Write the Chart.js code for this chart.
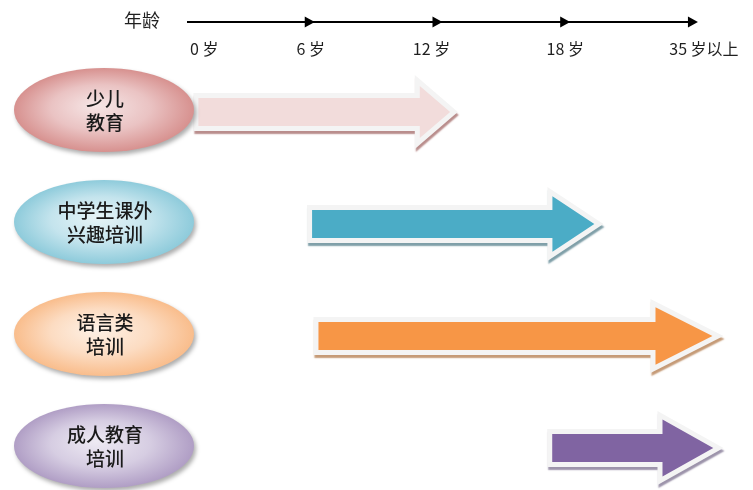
<!DOCTYPE html>
<html>
<head>
<meta charset="utf-8">
<script src="https://cdn.jsdelivr.net/npm/chart.js@4/dist/chart.umd.min.js"></script>
<style>
  html, body { margin: 0; padding: 0; background: #ffffff; }
  #c { display: block; }
</style>
</head>
<body>
<canvas id="c" width="753" height="490"></canvas>
<script>
// Training categories (one row each), drawn as labelled ovals
const categories = [
  ['少儿', '教育'],
  ['中学生课外', '兴趣培训'],
  ['语言类', '培训'],
  ['成人教育', '培训']
];

// Age stages on the top axis; each stage is one unit on the x scale
const axisTitle = '年龄';
const ageTicks = ['0 岁', '6 岁', '12 岁', '18 岁', '35 岁以上'];

// Age span covered by each category, in age-stage units
const spanStart = [0.05, 0.94, 0.99, 2.82];
const spanEnd   = [2.12, 3.26, 4.20, 4.20];

// Styling per row
const arrowFill   = ['#f2dcdb', '#4bacc6', '#f79646', '#8064a2'];
const arrowShadow = ['#b98d8c', '#7f9fa8', '#c59a76', '#9c93aa'];
const headLength  = [43, 56, 73, 66];
const ovalEdge    = ['#d7918f', '#8ecbdb', '#f9bd8c', '#b09ec5'];
const ovalMid     = ['#eac3c3', '#c4e4ed', '#fcdcc2', '#d6cde2'];
const ovalCenter  = ['#f6e6e6', '#e6f4f7', '#fef1e6', '#eeeaf3'];

// Horizontal nudge of each tick label relative to its tick
const tickLabelShift = [3, -4, -11, -5, 6];

const CJK = '"Noto Sans CJK SC", "Noto Sans", sans-serif';

function arrowPath(ctx, x0, x1, y, bh, hh, hl) {
  ctx.beginPath();
  ctx.moveTo(x0, y - bh);
  ctx.lineTo(x1 - hl, y - bh);
  ctx.lineTo(x1 - hl, y - hh);
  ctx.lineTo(x1, y);
  ctx.lineTo(x1 - hl, y + hh);
  ctx.lineTo(x1 - hl, y + bh);
  ctx.lineTo(x0, y + bh);
  ctx.closePath();
}

const diagramPlugin = {
  id: 'ageDiagram',
  afterDatasetsDraw(chart) {
    const ctx = chart.ctx;
    const xs = chart.scales.x;
    const ys = chart.scales.y;
    const area = chart.chartArea;

    // ---- top age axis ----
    const axisY = area.top - 90;
    const ax0 = xs.getPixelForValue(0);
    const ax1 = xs.getPixelForValue(ageTicks.length - 1);
    ctx.save();
    ctx.strokeStyle = '#000000';
    ctx.lineWidth = 2;
    ctx.beginPath();
    ctx.moveTo(ax0, axisY);
    ctx.lineTo(ax1 - 4, axisY);
    ctx.stroke();
    ctx.fillStyle = '#000000';
    for (let i = 1; i < ageTicks.length; i++) {
      const tx = xs.getPixelForValue(i);
      ctx.beginPath();
      ctx.moveTo(tx, axisY);
      ctx.lineTo(tx - 10, axisY - 5.5);
      ctx.lineTo(tx - 10, axisY + 5.5);
      ctx.closePath();
      ctx.fill();
    }
    ctx.fillStyle = '#1f1f1f';
    ctx.textBaseline = 'middle';
    ctx.font = '18px ' + CJK;
    ctx.textAlign = 'right';
    ctx.fillText(axisTitle, ax0 - 27, axisY - 2);
    ctx.font = '16px ' + CJK;
    ageTicks.forEach((t, i) => {
      const tx = xs.getPixelForValue(i);
      ctx.textAlign = i === 0 ? 'left' : 'center';
      ctx.fillText(t, tx + tickLabelShift[i], axisY + 27);
    });
    ctx.restore();

    // ---- span arrows ----
    const meta = chart.getDatasetMeta(0);
    const bh = 19, hh = 37, b = 5;
    meta.data.forEach((el, i) => {
      const x0 = el.base;
      const x1 = el.x;
      const y = el.y;
      const hl = headLength[i];

      ctx.save();
      ctx.shadowColor = arrowShadow[i];
      ctx.shadowOffsetX = 1;
      ctx.shadowOffsetY = 3;
      ctx.shadowBlur = 1.5;
      ctx.fillStyle = '#f4f4f4';
      arrowPath(ctx, x0, x1, y, bh, hh, hl);
      ctx.fill();
      ctx.restore();

      const d = b * Math.sqrt(hh * hh + hl * hl) / hh;
      const xt = x1 - d;
      const xb = x1 - hl + b;
      const ihh = (xt - xb) * hh / hl;
      ctx.save();
      ctx.fillStyle = arrowFill[i];
      arrowPath(ctx, x0 + b, xt, y, bh - b, ihh, xt - xb);
      ctx.fill();
      ctx.restore();
    });

    // ---- category ovals ----
    const rx = 90, ry = 42;
    const cx = area.left + 104;
    categories.forEach((lines, i) => {
      const cy = ys.getPixelForValue(i) - 2;
      ctx.save();
      ctx.shadowColor = 'rgba(0,0,0,0.32)';
      ctx.shadowOffsetX = 2;
      ctx.shadowOffsetY = 3;
      ctx.shadowBlur = 4;
      ctx.translate(cx, cy);
      ctx.scale(1, ry / rx);
      const g = ctx.createRadialGradient(-8, -10, 0, 0, 0, rx);
      g.addColorStop(0, ovalCenter[i]);
      g.addColorStop(0.55, ovalMid[i]);
      g.addColorStop(1, ovalEdge[i]);
      ctx.fillStyle = g;
      ctx.beginPath();
      ctx.arc(0, 0, rx, 0, Math.PI * 2);
      ctx.fill();
      ctx.restore();

      ctx.save();
      ctx.fillStyle = '#1a1a1a';
      ctx.font = '500 19px ' + CJK;
      ctx.textAlign = 'center';
      ctx.textBaseline = 'middle';
      ctx.fillText(lines[0], cx + 1, cy - 11);
      ctx.fillText(lines[1], cx + 1, cy + 13);
      ctx.restore();
    });
  }
};

new Chart(document.getElementById('c'), {
  type: 'bar',
  data: {
    labels: categories,
    datasets: [{
      data: spanStart.map((s, i) => [s, spanEnd[i]]),
      backgroundColor: 'rgba(0,0,0,0)',
      borderWidth: 0
    }]
  },
  options: {
    indexAxis: 'y',
    responsive: false,
    animation: false,
    events: [],
    layout: { padding: { top: 112, bottom: 42, left: 0, right: 0 } },
    scales: {
      x: { type: 'linear', display: false, min: -1.464, max: 4.431 },
      y: { type: 'category', display: false, offset: false }
    },
    plugins: {
      legend: { display: false },
      tooltip: { enabled: false }
    }
  },
  plugins: [diagramPlugin]
});
</script>
</body>
</html>
